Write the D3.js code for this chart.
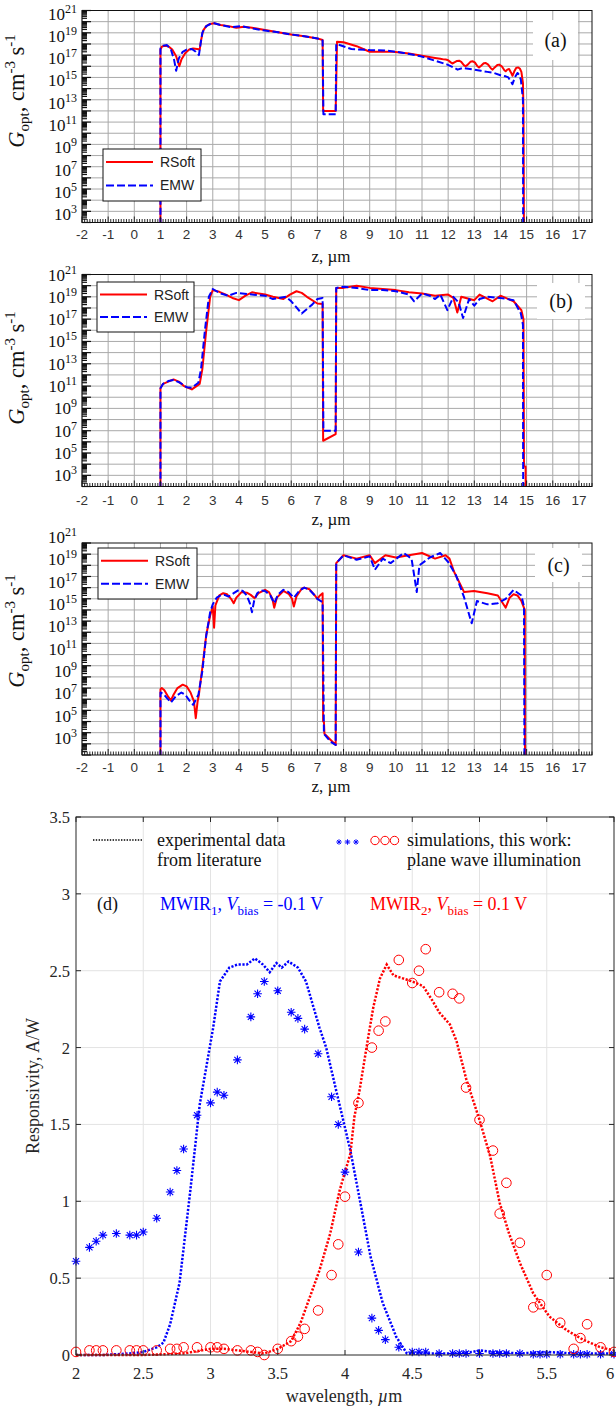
<!DOCTYPE html>
<html>
<head>
<meta charset="utf-8">
<script src="https://cdn.jsdelivr.net/npm/d3@7"></script>
<style>
  body { margin: 0; background: #fff; }
  svg { display: block; }
</style>
</head>
<body>
<svg id="fig" width="616" height="1409"></svg>
<script>
// ---------- Optical generation rate profiles, panels (a)-(c) ----------
// Each point: [z in µm, log10 of G_opt in cm^-3 s^-1]
const Z_TICKS = d3.range(-2, 18);
const G_TICK_EXPONENTS = [3, 5, 7, 9, 11, 13, 15, 17, 19, 21];

const gA_RSoft = [[1.0,0],[1.0,17.5],[1.05,17.75],[1.15,17.85],[1.3,17.8],[1.45,17.5],[1.6,16.9],[1.72,16.0],[1.8,16.6],[1.95,17.2],[2.1,17.5],[2.25,17.6],[2.4,17.55],[2.5,17.5],[2.55,18.3],[2.63,19.2],[2.75,19.6],[2.9,19.8],[3.05,19.85],[3.3,19.7],[3.6,19.6],[3.9,19.45],[4.2,19.55],[4.5,19.45],[5.0,19.25],[5.5,19.05],[6.0,18.85],[6.5,18.7],[7.0,18.5],[7.2,18.35],[7.22,12.0],[7.7,12.0],[7.75,18.2],[8.0,18.15],[8.5,17.8],[9.0,17.3],[9.9,17.3],[10.5,17.15],[11.0,16.95],[11.5,16.75],[11.7,16.68],[11.82,16.62],[11.91,16.6],[12.0,16.55],[12.1,16.35],[12.16,16.25],[12.24,16.35],[12.34,16.48],[12.42,16.5],[12.5,16.4],[12.6,16.1],[12.67,16.0],[12.75,16.15],[12.85,16.4],[12.93,16.45],[13.02,16.35],[13.12,16.0],[13.18,15.9],[13.26,16.05],[13.36,16.27],[13.44,16.3],[13.53,16.15],[13.64,15.8],[13.7,15.7],[13.78,15.9],[13.88,16.12],[13.95,16.15],[14.05,16.0],[14.15,15.65],[14.2,15.55],[14.26,15.7],[14.33,15.75],[14.4,15.45],[14.46,15.15],[14.53,15.55],[14.6,15.85],[14.67,15.9],[14.74,15.8],[14.8,15.5],[14.86,14.5],[14.88,12.0],[14.9,0]];
const gA_EMW = [[1.0,0],[1.0,17.6],[1.1,17.85],[1.25,17.9],[1.4,17.5],[1.52,16.6],[1.6,15.6],[1.7,16.7],[1.85,17.3],[2.0,17.5],[2.2,17.55],[2.35,17.3],[2.47,17.0],[2.52,17.8],[2.6,19.0],[2.75,19.6],[3.0,19.9],[3.3,19.7],[3.7,19.5],[4.1,19.6],[4.5,19.4],[5.0,19.2],[5.5,19.05],[6.0,18.85],[6.5,18.7],[7.0,18.5],[7.2,18.3],[7.23,11.7],[7.7,11.7],[7.72,18.0],[8.3,17.55],[9.0,17.45],[9.7,17.4],[10.3,17.2],[10.95,16.9],[11.5,16.5],[11.97,16.15],[12.2,15.9],[12.36,15.7],[12.55,15.85],[12.7,15.8],[13.0,15.7],[13.25,15.6],[13.5,15.5],[13.75,15.4],[14.0,15.2],[14.2,15.1],[14.3,15.0],[14.46,14.4],[14.55,15.0],[14.65,15.4],[14.72,15.2],[14.78,14.8],[14.86,13.0],[14.87,0]];

const gB_RSoft = [[1.0,0],[1.0,10.8],[1.1,11.2],[1.3,11.4],[1.5,11.6],[1.7,11.4],[1.9,11.0],[2.2,10.7],[2.35,10.95],[2.5,11.2],[2.6,12.5],[2.75,16.0],[2.9,19.0],[3.0,19.6],[3.25,19.45],[3.5,19.2],[3.75,18.9],[4.0,18.7],[4.25,19.1],[4.5,19.4],[5.0,19.2],[5.3,19.0],[5.7,18.8],[5.95,19.2],[6.2,19.5],[6.4,19.35],[6.6,19.0],[7.0,18.4],[7.2,18.35],[7.22,6.1],[7.7,6.7],[7.72,19.8],[8.0,19.8],[8.5,20.0],[9.0,19.8],[9.5,19.7],[10.0,19.6],[10.5,19.4],[11.0,19.3],[11.5,19.1],[12.0,19.2],[12.2,18.9],[12.35,17.6],[12.5,19.0],[13.0,18.7],[13.2,19.2],[13.7,18.6],[14.0,19.1],[14.5,18.6],[14.8,17.8],[14.88,17.0],[14.9,3.8],[14.96,3.8],[14.97,0]];
const gB_EMW = [[1.0,0],[1.0,10.8],[1.1,11.2],[1.3,11.45],[1.5,11.55],[1.75,11.3],[2.0,10.9],[2.2,10.85],[2.45,11.3],[2.55,12.5],[2.7,16.0],[2.85,19.0],[3.0,19.7],[3.3,19.3],[3.6,19.1],[3.9,19.35],[4.5,19.2],[5.0,19.1],[5.3,18.8],[5.8,19.0],[6.0,18.6],[6.4,17.5],[6.8,18.3],[7.0,18.8],[7.2,18.9],[7.23,7.0],[7.7,7.0],[7.72,19.8],[8.0,19.9],[8.5,19.8],[9.0,19.6],[9.5,19.6],[10.0,19.5],[10.5,19.2],[10.7,18.6],[11.0,19.3],[11.3,19.1],[11.5,18.8],[11.7,19.2],[11.97,17.8],[12.2,19.0],[12.4,18.5],[12.57,17.1],[12.8,18.8],[13.0,18.2],[13.2,18.8],[13.5,19.0],[14.0,18.9],[14.5,18.7],[14.78,17.5],[14.86,16.5],[14.87,0]];

const gC_RSoft = [[1.0,0],[1.0,7.9],[1.05,8.0],[1.15,7.8],[1.3,7.2],[1.4,6.9],[1.5,7.4],[1.65,8.0],[1.85,8.3],[2.0,8.15],[2.15,7.6],[2.28,6.8],[2.35,5.3],[2.42,6.8],[2.47,7.4],[2.6,9.8],[2.75,12.75],[2.9,14.5],[3.0,15.3],[3.05,13.4],[3.1,15.4],[3.25,16.3],[3.4,16.5],[3.55,16.4],[3.7,16.0],[3.8,15.6],[3.9,16.1],[4.1,16.6],[4.3,16.55],[4.45,16.35],[4.6,16.05],[4.75,16.5],[5.0,16.8],[5.15,16.6],[5.28,16.0],[5.35,15.2],[5.45,16.1],[5.7,16.7],[5.9,16.45],[6.03,16.0],[6.1,15.3],[6.2,16.2],[6.4,16.9],[6.5,17.0],[6.7,16.85],[6.9,16.3],[7.0,16.0],[7.1,16.3],[7.2,16.5],[7.22,5.0],[7.25,5.0],[7.27,3.9],[7.7,2.9],[7.72,19.2],[8.0,19.9],[8.5,19.6],[9.0,19.9],[9.2,19.2],[9.6,19.9],[10.0,19.7],[10.5,19.9],[11.0,20.1],[11.5,19.6],[11.9,19.9],[12.05,19.6],[12.23,18.4],[12.61,16.6],[12.99,16.7],[13.5,16.5],[13.9,16.3],[14.2,15.2],[14.35,16.1],[14.5,16.4],[14.65,16.3],[14.8,15.8],[14.93,15.0],[14.94,0]];
const gC_EMW = [[1.0,0],[1.0,7.6],[1.1,7.5],[1.25,7.1],[1.4,6.7],[1.6,7.3],[1.8,7.6],[1.95,7.4],[2.1,6.9],[2.25,6.5],[2.45,7.4],[2.6,9.5],[2.75,12.7],[2.9,14.8],[3.0,15.5],[3.15,16.1],[3.3,16.3],[3.45,16.35],[3.6,16.2],[3.8,16.5],[4.0,16.8],[4.15,16.7],[4.3,16.3],[4.42,15.6],[4.5,14.8],[4.58,15.8],[4.7,16.5],[4.85,16.75],[5.0,16.7],[5.2,16.3],[5.35,15.6],[5.5,16.4],[5.7,16.8],[5.9,16.6],[6.1,16.1],[6.3,16.7],[6.5,17.0],[6.7,16.8],[6.9,16.3],[7.0,16.0],[7.2,15.7],[7.25,3.9],[7.5,3.2],[7.7,2.9],[7.72,19.2],[8.0,19.9],[8.5,19.5],[9.0,19.8],[9.2,18.6],[9.5,19.6],[9.8,19.2],[10.3,20.1],[10.6,19.6],[10.8,16.6],[10.9,19.0],[11.3,19.7],[11.7,20.1],[12.0,19.3],[12.3,18.1],[12.6,16.2],[12.9,13.8],[13.1,15.8],[13.5,15.5],[13.9,15.6],[14.2,16.0],[14.5,16.8],[14.8,16.3],[14.9,15.3],[14.92,0]];

// ---------- Spectral responsivity, panel (d) ----------
const WL_TICKS = [2, 2.5, 3, 3.5, 4, 4.5, 5, 5.5, 6];
const R_TICKS = [0, 0.5, 1, 1.5, 2, 2.5, 3, 3.5];

// experimental curves: [wavelength µm, responsivity A/W]
const expMWIR1 = [[2.0,0.0],[2.2,0.0],[2.4,0.01],[2.5,0.02],[2.6,0.05],[2.65,0.08],[2.7,0.2],[2.77,0.47],[2.85,1.07],[2.92,1.63],[3.02,2.13],[3.07,2.43],[3.14,2.52],[3.2,2.54],[3.27,2.54],[3.33,2.58],[3.39,2.54],[3.44,2.49],[3.49,2.55],[3.53,2.52],[3.58,2.56],[3.65,2.52],[3.71,2.43],[3.81,2.13],[3.86,2.0],[3.94,1.7],[4.04,1.33],[4.11,1.01],[4.19,0.64],[4.28,0.34],[4.38,0.12],[4.46,0.01],[4.6,0.01],[4.8,0.01],[4.95,0.02],[5.0,0.03],[5.1,0.02],[5.3,0.01],[5.5,0.02],[5.7,0.01],[6.0,0.01]];
const expMWIR2 = [[2.0,0.0],[2.5,0.0],[2.8,0.01],[3.0,0.04],[3.1,0.04],[3.2,0.03],[3.3,0.02],[3.4,0.01],[3.5,0.04],[3.6,0.09],[3.67,0.21],[3.74,0.38],[3.81,0.55],[3.89,0.79],[3.96,1.07],[4.04,1.31],[4.07,1.55],[4.11,1.73],[4.16,2.0],[4.21,2.26],[4.26,2.45],[4.31,2.54],[4.36,2.47],[4.43,2.45],[4.5,2.43],[4.58,2.4],[4.64,2.32],[4.7,2.23],[4.78,2.15],[4.83,2.04],[4.9,1.8],[4.94,1.69],[5.0,1.53],[5.08,1.29],[5.15,0.99],[5.22,0.79],[5.3,0.6],[5.4,0.4],[5.52,0.25],[5.65,0.16],[5.77,0.1],[5.9,0.05],[6.0,0.03]];

// simulated points on a shared wavelength grid
const simWavelengths = [2.0,2.1,2.15,2.2,2.3,2.4,2.45,2.5,2.6,2.7,2.75,2.8,2.9,3.0,3.05,3.1,3.2,3.3,3.35,3.4,3.5,3.6,3.65,3.7,3.8,3.9,3.95,4.0,4.1,4.2,4.25,4.3,4.4,4.5,4.55,4.6,4.7,4.8,4.85,4.9,5.0,5.1,5.15,5.2,5.3,5.4,5.45,5.5,5.6,5.7,5.75,5.8,5.9,6.0];
const simMWIR1 = [0.61,0.70,0.74,0.78,0.79,0.78,0.78,0.80,0.89,1.06,1.20,1.34,1.56,1.64,1.71,1.69,1.92,2.20,2.35,2.43,2.37,2.23,2.19,2.12,1.96,1.68,1.50,1.19,0.67,0.24,0.16,0.10,0.05,0.02,0.02,0.02,0.01,0.01,0.01,0.01,0.01,0.01,0.01,0.01,0.01,0.005,0.005,0.005,0.005,0.005,0.005,0.005,0.005,0.005];
const simMWIR2 = [0.02,0.03,0.03,0.03,0.03,0.03,0.03,0.03,0.03,0.04,0.04,0.05,0.05,0.05,0.05,0.04,0.03,0.03,0.02,0.0,0.04,0.09,0.12,0.17,0.29,0.52,0.72,1.03,1.64,2.0,2.11,2.17,2.57,2.42,2.50,2.64,2.36,2.35,2.32,1.74,1.53,1.33,0.92,1.12,0.73,0.31,0.33,0.52,0.21,0.04,0.11,0.20,0.05,0.02];

// ---------- drawing ----------
const SERIF = "'Liberation Serif', 'Times New Roman', serif";
const SANS = "'Liberation Sans', Arial, sans-serif";
const RED = '#ff0000', BLUE = '#0000ff';

const svg = d3.select('#fig');

const zScale = d3.scaleLinear().domain([-2, 17.5]).range([82, 592]);

const panels = [
  { tag: '(a)', top: 10.5, bottom: 222.5, red: gA_RSoft, blue: gA_EMW,
    legend: { x: 103, y: 149, w: 98, h: 52 }, tagBox: { x: 533, y: 20, w: 45, h: 40 },
    labelDy: 4, xLabelY: 239, xTitleY: 262, yTitleY: 91 },
  { tag: '(b)', top: 274.5, bottom: 486.5, red: gB_RSoft, blue: gB_EMW,
    legend: { x: 97, y: 282, w: 97, h: 50 }, tagBox: { x: 537, y: 283, w: 48, h: 36 },
    labelDy: 1, xLabelY: 505, xTitleY: 525, yTitleY: 368 },
  { tag: '(c)', top: 543, bottom: 755, red: gC_RSoft, blue: gC_EMW,
    legend: { x: 98, y: 548, w: 99, h: 51 }, tagBox: { x: 535, y: 548, w: 47, h: 34 },
    labelDy: -5, xLabelY: 772, xTitleY: 792, yTitleY: 631 }
];

panels.forEach((p, i) => {
  const y = d3.scaleLog().domain([1e2, 1e21]).range([p.bottom, p.top]);
  const [x0, x1] = zScale.range();
  const g = svg.append('g');

  // grid: every integer z, every decade of G
  g.append('g').selectAll('line').data(Z_TICKS).join('line')
    .attr('x1', d => zScale(d)).attr('x2', d => zScale(d))
    .attr('y1', p.top).attr('y2', p.bottom)
    .attr('stroke', '#a9a9a9').attr('stroke-width', 1);
  g.append('g').selectAll('line').data(d3.range(3, 21)).join('line')
    .attr('x1', x0).attr('x2', x1)
    .attr('y1', d => y(Math.pow(10, d))).attr('y2', d => y(Math.pow(10, d)))
    .attr('stroke', '#a9a9a9').attr('stroke-width', 1);

  // white box behind the panel tag
  g.append('rect').attr('x', p.tagBox.x).attr('y', p.tagBox.y)
    .attr('width', p.tagBox.w).attr('height', p.tagBox.h).attr('fill', '#fff');
  g.append('text').attr('x', p.tagBox.x + p.tagBox.w / 2).attr('y', p.tagBox.y + p.tagBox.h / 2 + 7)
    .attr('text-anchor', 'middle').attr('font-family', SERIF).attr('font-size', 20)
    .attr('fill', '#111').text(p.tag);

  // curves
  const clipId = 'clip' + i;
  svg.append('clipPath').attr('id', clipId).append('rect')
    .attr('x', x0).attr('y', p.top).attr('width', x1 - x0).attr('height', p.bottom - p.top);
  const line = d3.line().x(d => zScale(d[0])).y(d => y(Math.pow(10, d[1])));
  const curves = g.append('g').attr('clip-path', `url(#${clipId})`);
  curves.append('path').attr('d', line(p.red)).attr('fill', 'none')
    .attr('stroke', RED).attr('stroke-width', 2).attr('stroke-linejoin', 'round');
  curves.append('path').attr('d', line(p.blue)).attr('fill', 'none')
    .attr('stroke', BLUE).attr('stroke-width', 2).attr('stroke-dasharray', '7 3')
    .attr('stroke-linejoin', 'round');

  // frame
  g.append('rect').attr('x', x0).attr('y', p.top).attr('width', x1 - x0)
    .attr('height', p.bottom - p.top).attr('fill', 'none').attr('stroke', '#111').attr('stroke-width', 1);

  // bottom ticks: majors at integers, minors every 0.1
  const minorZ = d3.range(-20, 176).map(k => k / 10);
  g.append('g').selectAll('line').data(minorZ).join('line')
    .attr('x1', d => zScale(d)).attr('x2', d => zScale(d))
    .attr('y1', p.bottom).attr('y2', d => p.bottom - (Math.abs(d - Math.round(d)) < 1e-6 ? 6 : 3.5))
    .attr('stroke', '#111').attr('stroke-width', 0.9);

  // left ticks: decades and log minors
  const leftTicks = [];
  for (let e = 2; e < 21; e++) for (let m = 1; m <= 9; m++) leftTicks.push({ v: m * Math.pow(10, e), major: m === 1 });
  leftTicks.push({ v: 1e21, major: true });
  g.append('g').selectAll('line').data(leftTicks).join('line')
    .attr('x1', x0).attr('x2', d => x0 + (d.major ? 9 : 5))
    .attr('y1', d => y(d.v)).attr('y2', d => y(d.v))
    .attr('stroke', '#111').attr('stroke-width', 1.2);

  // x tick labels
  g.append('g').selectAll('text').data(Z_TICKS).join('text')
    .attr('x', d => zScale(d)).attr('y', p.xLabelY).attr('text-anchor', 'middle')
    .attr('font-family', SANS).attr('font-size', 13.5).attr('fill', '#333')
    .text(d => d);
  g.append('text').attr('x', 331).attr('y', p.xTitleY).attr('text-anchor', 'middle')
    .attr('font-family', SERIF).attr('font-size', 17).attr('fill', '#111').text('z, µm');

  // y tick labels: 10^n
  const yl = g.append('g').selectAll('text').data(G_TICK_EXPONENTS).join('text')
    .attr('x', 77).attr('y', d => y(Math.pow(10, d)) + p.labelDy + 5)
    .attr('text-anchor', 'end').attr('font-family', SERIF).attr('fill', '#111');
  yl.append('tspan').attr('font-size', 17).text('10');
  yl.append('tspan').attr('font-size', 12).attr('dy', -7).text(d => d);

  // y title
  const yt = g.append('text').attr('transform', `translate(24,${p.yTitleY}) rotate(-90)`)
    .attr('text-anchor', 'middle').attr('font-family', SERIF).attr('font-size', 22.5).attr('fill', '#111');
  yt.append('tspan').attr('font-style', 'italic').text('G');
  yt.append('tspan').attr('font-size', 15).attr('dy', 5).text('opt');
  yt.append('tspan').attr('dy', -5).text(', cm');
  yt.append('tspan').attr('font-size', 15).attr('dy', -9).text('-3');
  yt.append('tspan').attr('dy', 9).text(' s');
  yt.append('tspan').attr('font-size', 15).attr('dy', -9).text('-1');

  // legend
  const L = p.legend;
  const lg = g.append('g');
  lg.append('rect').attr('x', L.x).attr('y', L.y).attr('width', L.w).attr('height', L.h)
    .attr('fill', '#fff').attr('stroke', '#111').attr('stroke-width', 1);
  const rowY = [L.y + L.h * 0.25, L.y + L.h * 0.7];
  lg.append('line').attr('x1', L.x + 3).attr('x2', L.x + 50).attr('y1', rowY[0]).attr('y2', rowY[0])
    .attr('stroke', RED).attr('stroke-width', 2);
  lg.append('line').attr('x1', L.x + 3).attr('x2', L.x + 50).attr('y1', rowY[1]).attr('y2', rowY[1])
    .attr('stroke', BLUE).attr('stroke-width', 2).attr('stroke-dasharray', '8 3');
  lg.selectAll('text.lt').data(['RSoft', 'EMW']).join('text')
    .attr('x', L.x + 57).attr('y', (d, k) => rowY[k] + 5)
    .attr('font-family', SANS).attr('font-size', 14).attr('fill', '#222').text(d => d);
});

// ---------- panel (d) ----------
const xD = d3.scaleLinear().domain([2, 6]).range([76, 614]);
const yD = d3.scaleLinear().domain([0, 3.5]).range([1355, 817]);
const gd = svg.append('g');
const AX = '#262626';

gd.append('g').selectAll('line').data(WL_TICKS.slice(1, -1)).join('line')
  .attr('x1', d => xD(d)).attr('x2', d => xD(d)).attr('y1', yD(0)).attr('y2', yD(3.5))
  .attr('stroke', '#e3e3e3').attr('stroke-width', 1);
gd.append('g').selectAll('line').data(R_TICKS.slice(1, -1)).join('line')
  .attr('x1', xD(2)).attr('x2', xD(6)).attr('y1', d => yD(d)).attr('y2', d => yD(d))
  .attr('stroke', '#e3e3e3').attr('stroke-width', 1);

const lineD = d3.line().x(d => xD(d[0])).y(d => yD(d[1]));
gd.append('path').attr('d', lineD(expMWIR1)).attr('fill', 'none').attr('stroke', BLUE)
  .attr('stroke-width', 2.5).attr('stroke-dasharray', '2.2 1.6');
gd.append('path').attr('d', lineD(expMWIR2)).attr('fill', 'none').attr('stroke', RED)
  .attr('stroke-width', 2.5).attr('stroke-dasharray', '2.2 1.6');

const star = r => { const a = r * 0.7071; return `M${-r},0H${r}M0,${-r}V${r}M${-a},${-a}L${a},${a}M${-a},${a}L${a},${-a}`; };
gd.append('g').selectAll('path').data(simWavelengths.map((w, k) => [w, simMWIR1[k]])).join('path')
  .attr('transform', d => `translate(${xD(d[0])},${yD(d[1])})`)
  .attr('d', star(4.3)).attr('stroke', BLUE).attr('stroke-width', 1.1).attr('fill', 'none');
gd.append('g').selectAll('circle').data(simWavelengths.map((w, k) => [w, simMWIR2[k]])).join('circle')
  .attr('cx', d => xD(d[0])).attr('cy', d => yD(d[1])).attr('r', 4.8)
  .attr('fill', 'none').attr('stroke', RED).attr('stroke-width', 1);

// frame and inward ticks
gd.append('rect').attr('x', xD(2)).attr('y', yD(3.5)).attr('width', xD(6) - xD(2))
  .attr('height', yD(0) - yD(3.5)).attr('fill', 'none').attr('stroke', AX).attr('stroke-width', 1);
gd.append('g').selectAll('path').data(WL_TICKS).join('path')
  .attr('d', d => `M${xD(d)},${yD(0)}v-5M${xD(d)},${yD(3.5)}v5`).attr('stroke', AX);
gd.append('g').selectAll('path').data(R_TICKS).join('path')
  .attr('d', d => `M${xD(2)},${yD(d)}h5M${xD(6)},${yD(d)}h-5`).attr('stroke', AX);

// the last wavelength label sits at the page edge, so keep it inside
gd.append('g').selectAll('text').data(WL_TICKS).join('text')
  .attr('x', d => Math.min(xD(d), 610)).attr('y', 1379).attr('text-anchor', 'middle')
  .attr('font-family', SERIF).attr('font-size', 16.5).attr('fill', AX).text(d => d);
gd.append('g').selectAll('text').data(R_TICKS).join('text')
  .attr('x', 70).attr('y', d => yD(d) + 6).attr('text-anchor', 'end')
  .attr('font-family', SERIF).attr('font-size', 16.5).attr('fill', AX).text(d => d);

const xt = gd.append('text').attr('x', 344).attr('y', 1402).attr('text-anchor', 'middle')
  .attr('font-family', SERIF).attr('font-size', 18).attr('fill', AX);
xt.append('tspan').text('wavelength,  ');
xt.append('tspan').attr('font-style', 'italic').text('µ');
xt.append('tspan').text('m');
gd.append('text').attr('transform', 'translate(39,1086) rotate(-90)').attr('text-anchor', 'middle')
  .attr('font-family', SERIF).attr('font-size', 18).attr('fill', AX).text('Responsivity, A/W');

// legend
gd.append('line').attr('x1', 93).attr('x2', 142).attr('y1', 840).attr('y2', 840)
  .attr('stroke', '#000').attr('stroke-width', 1.6).attr('stroke-dasharray', '1.4 1.4');
gd.append('text').attr('x', 157).attr('y', 846).attr('font-family', SERIF).attr('font-size', 18)
  .attr('fill', '#111').text('experimental data');
gd.append('text').attr('x', 157).attr('y', 866).attr('font-family', SERIF).attr('font-size', 18)
  .attr('fill', '#111').text('from literature');
gd.append('g').selectAll('path').data([339, 347.5, 356]).join('path')
  .attr('transform', d => `translate(${d},842)`).attr('d', star(2.8))
  .attr('stroke', BLUE).attr('stroke-width', 0.9).attr('fill', 'none');
gd.append('g').selectAll('circle').data([375, 385, 394.5]).join('circle')
  .attr('cx', d => d).attr('cy', 840.5).attr('r', 4.2)
  .attr('fill', 'none').attr('stroke', RED).attr('stroke-width', 1);
gd.append('text').attr('x', 407).attr('y', 846).attr('font-family', SERIF).attr('font-size', 18)
  .attr('fill', '#111').text('simulations, this work:');
gd.append('text').attr('x', 407).attr('y', 866).attr('font-family', SERIF).attr('font-size', 18)
  .attr('fill', '#111').text('plane wave illumination');

gd.append('text').attr('x', 97).attr('y', 910).attr('font-family', SERIF).attr('font-size', 18)
  .attr('fill', '#111').text('(d)');

function biasLabel(x, color, idx, volts) {
  const t = gd.append('text').attr('x', x).attr('y', 910).attr('font-family', SERIF)
    .attr('font-size', 18).attr('fill', color);
  t.append('tspan').text('MWIR');
  t.append('tspan').attr('font-size', 13).attr('dy', 5).text(idx);
  t.append('tspan').attr('dy', -5).text(', ');
  t.append('tspan').attr('font-style', 'italic').text('V');
  t.append('tspan').attr('font-size', 13).attr('dy', 5).text('bias');
  t.append('tspan').attr('dy', -5).text(' = ' + volts + ' V');
}
biasLabel(160, BLUE, '1', '-0.1');
biasLabel(370, RED, '2', '0.1');
</script>
</body>
</html>
